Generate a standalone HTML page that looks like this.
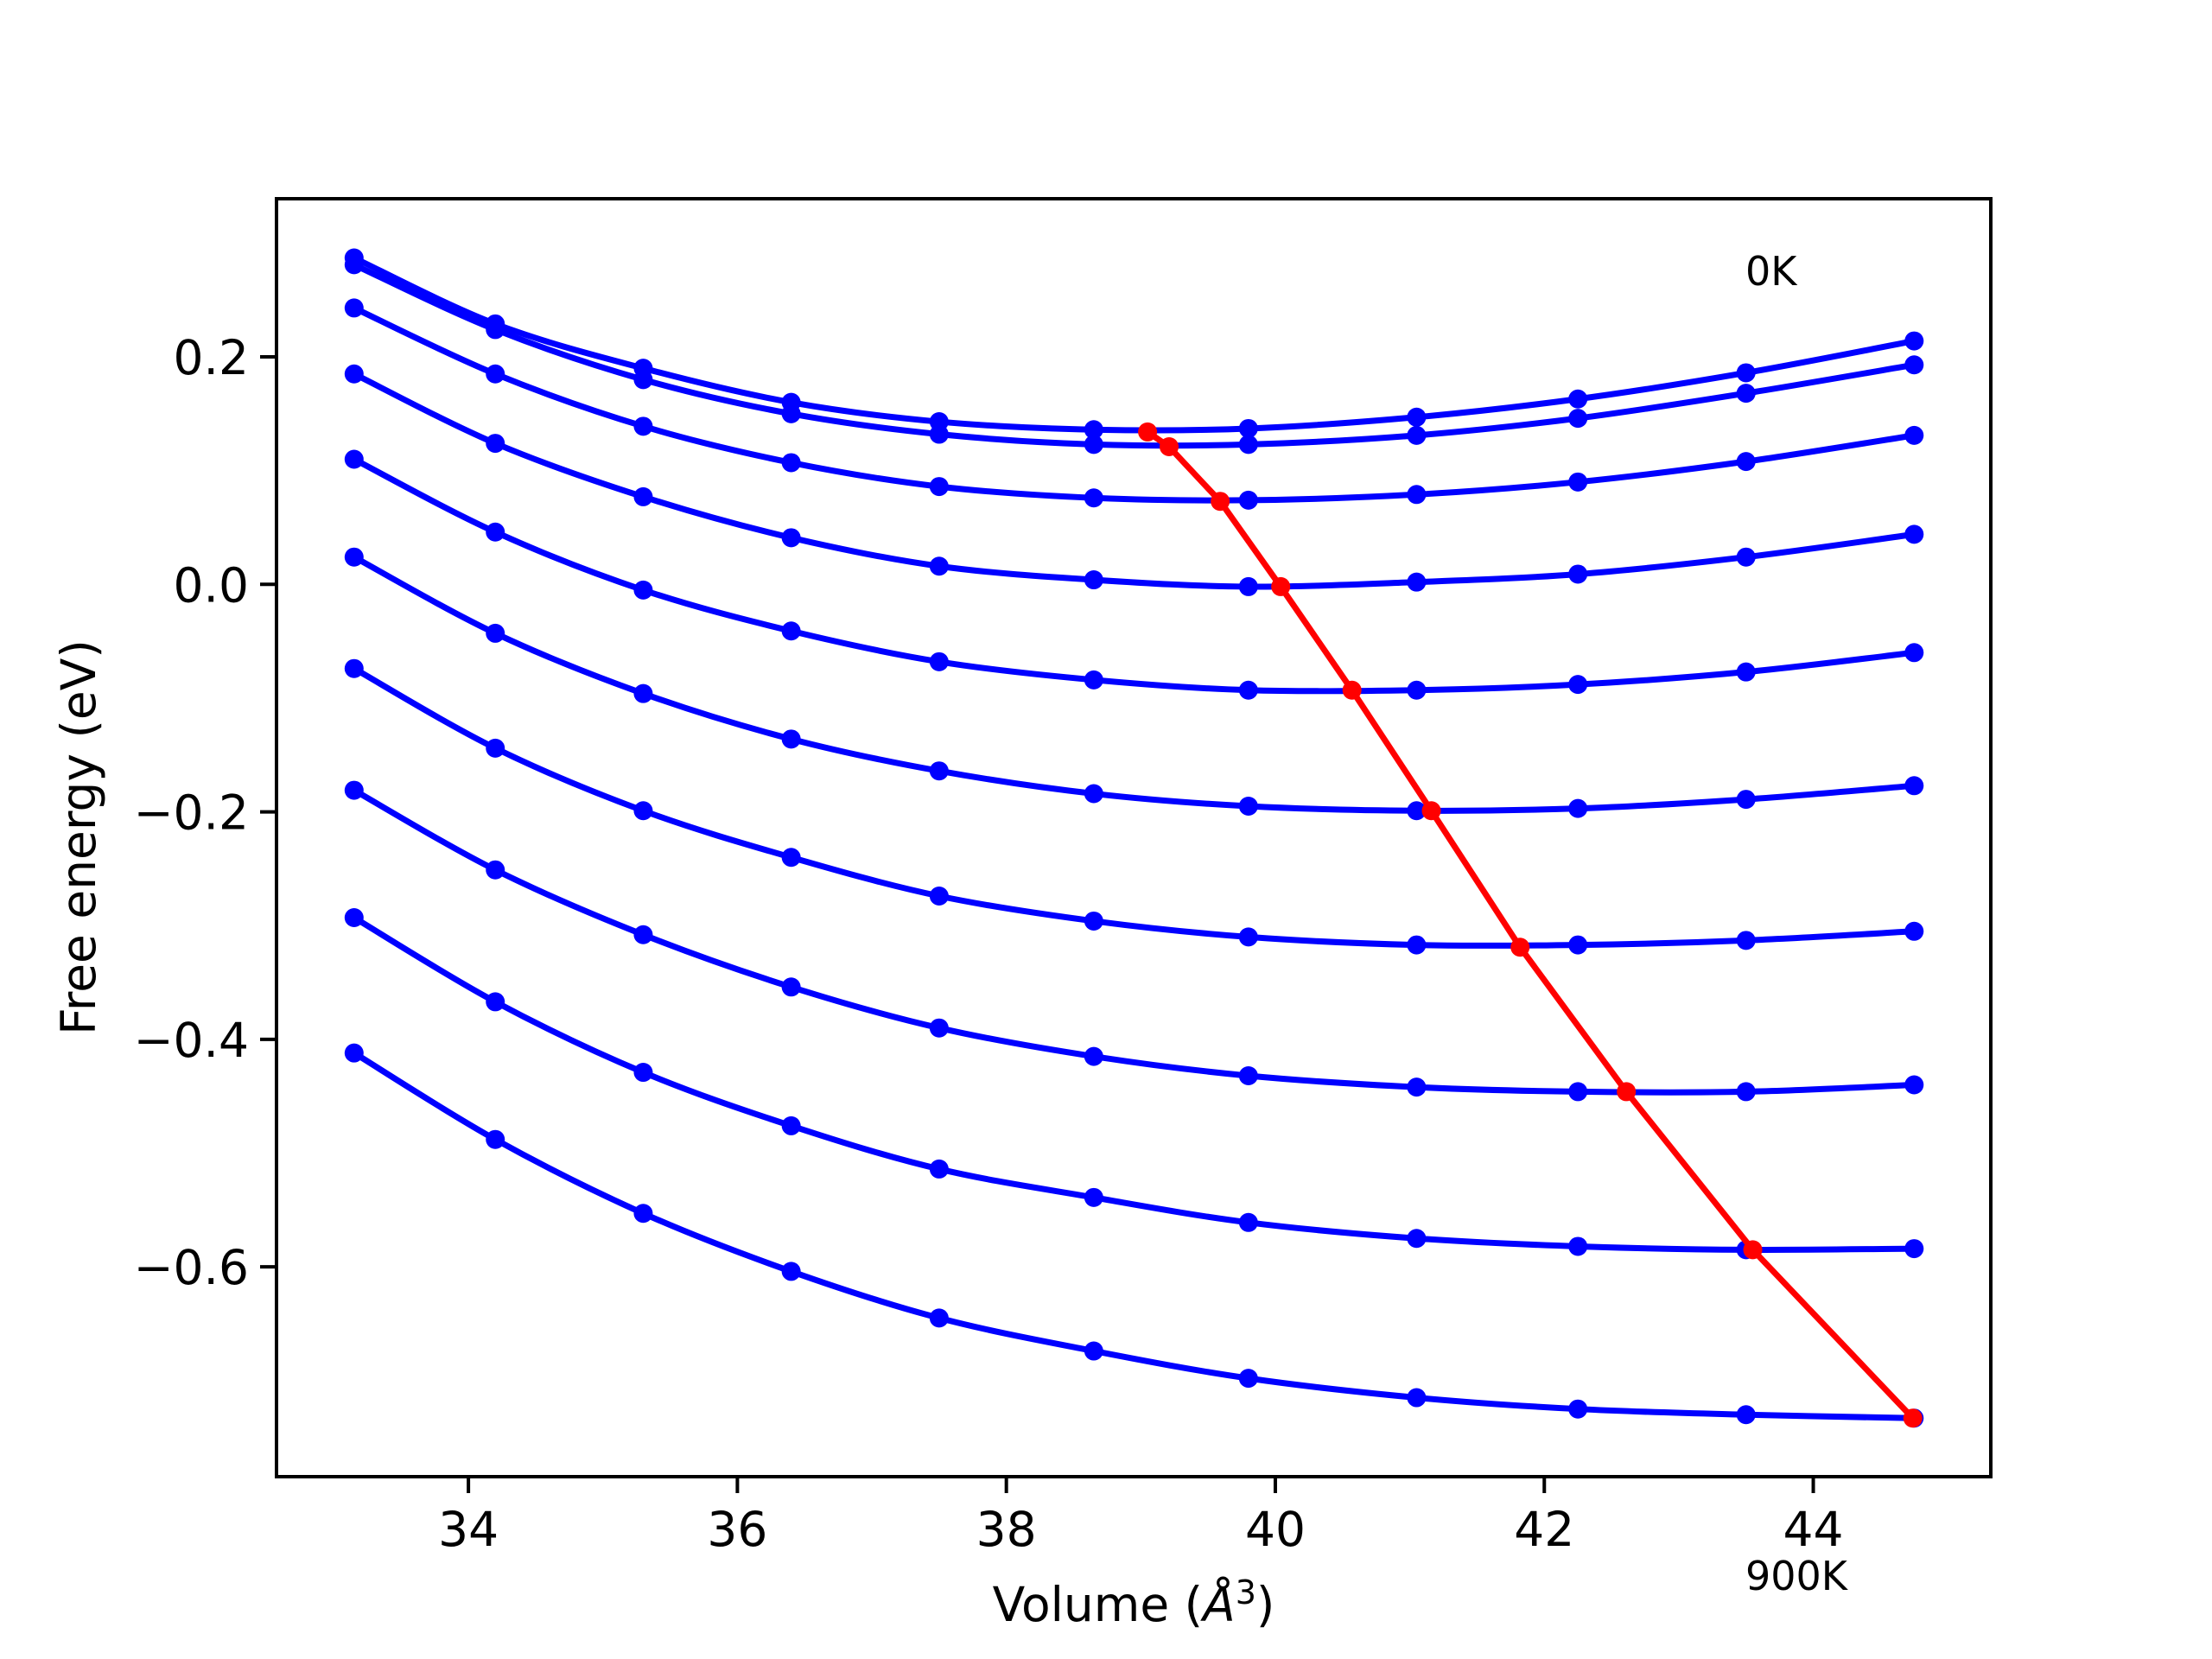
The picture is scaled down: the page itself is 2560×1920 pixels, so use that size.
<!DOCTYPE html>
<html><head><meta charset="utf-8"><style>
html,body{margin:0;padding:0;background:#fff}
svg{display:block}
text{font-family:"DejaVu Sans","Liberation Sans",sans-serif;fill:#000}
</style></head><body>
<svg id="chart" width="2560" height="1920" viewBox="0 0 2560 1920" xmlns="http://www.w3.org/2000/svg">
<rect width="2560" height="1920" fill="#fff"/>
<g id="plot"></g>
<rect x="320" y="230" width="1984" height="1479" fill="none" stroke="#000" stroke-width="4"/>
<g id="ticks"></g>
<text x="1312" y="1876" font-size="55" text-anchor="middle">Volume (<tspan font-style="italic">Å</tspan><tspan font-size="38" dy="-20">3</tspan><tspan dy="20">)</tspan></text>
<text transform="translate(110,969) rotate(-90)" font-size="55" text-anchor="middle">Free energy (eV)</text>
<text x="2020" y="330" font-size="46">0K</text>
<text x="2020" y="1840" font-size="46">900K</text>
</svg>
<script>
const volumes=[33.15,34.2,35.3,36.4,37.5,38.65,39.8,41.05,42.25,43.5,44.75];
const energies=[
[0.287,0.229,0.190,0.160,0.143,0.136,0.137,0.147,0.163,0.186,0.214],
[0.281,0.224,0.180,0.150,0.132,0.123,0.123,0.131,0.146,0.168,0.193],
[0.243,0.185,0.139,0.107,0.086,0.076,0.074,0.079,0.090,0.108,0.131],
[0.185,0.124,0.077,0.041,0.016,0.004,-0.002,0.002,0.009,0.024,0.044],
[0.110,0.046,-0.005,-0.041,-0.068,-0.084,-0.093,-0.093,-0.088,-0.077,-0.060],
[0.024,-0.043,-0.096,-0.136,-0.164,-0.184,-0.195,-0.199,-0.197,-0.189,-0.177],
[-0.074,-0.144,-0.199,-0.240,-0.274,-0.296,-0.310,-0.317,-0.317,-0.313,-0.305],
[-0.181,-0.251,-0.308,-0.354,-0.390,-0.415,-0.432,-0.442,-0.446,-0.446,-0.440],
[-0.293,-0.367,-0.429,-0.476,-0.514,-0.539,-0.561,-0.575,-0.582,-0.585,-0.584],
[-0.412,-0.488,-0.553,-0.604,-0.645,-0.674,-0.698,-0.715,-0.725,-0.730,-0.733]];
const minVolumes=[39.05,39.21,39.59,40.04,40.57,41.16,41.82,42.61,43.55,44.74];
const minEnergies=[0.134,0.121,0.073,-0.002,-0.093,-0.199,-0.319,-0.446,-0.585,-0.733];
const xTicks=[34,36,38,40,42,44];
const yTicks=[0.2,0.0,-0.2,-0.4,-0.6];
const yTickLabels=["0.2","0.0","\u22120.2","\u22120.4","\u22120.6"];

const X0=320,X1=2304,Y0=230,Y1=1709;
const xMin=32.573,xMax=45.32;
const yAt0=676.3,yPerUnit=1316.4;
const sx=v=>X0+(v-xMin)/(xMax-xMin)*(X1-X0);
const sy=v=>yAt0-v*yPerUnit;
const NS="http://www.w3.org/2000/svg";
const plot=document.getElementById('plot');
const ticks=document.getElementById('ticks');
function mk(tag,attrs,parent){const e=document.createElementNS(NS,tag);for(const k in attrs)e.setAttribute(k,attrs[k]);parent.appendChild(e);return e;}
function smoothPath(pts){
  let d=`M${pts[0][0]},${pts[0][1]}`;
  for(let i=0;i<pts.length-1;i++){
    const p0=pts[i-1]||pts[i],p1=pts[i],p2=pts[i+1],p3=pts[i+2]||p2;
    const c1=[p1[0]+(p2[0]-p0[0])/6,p1[1]+(p2[1]-p0[1])/6];
    const c2=[p2[0]-(p3[0]-p1[0])/6,p2[1]-(p3[1]-p1[1])/6];
    d+=` C${c1[0]},${c1[1]} ${c2[0]},${c2[1]} ${p2[0]},${p2[1]}`;
  }
  return d;
}
energies.forEach((series,si)=>{
  const pts=series.map((e,i)=>[sx(volumes[i]),sy(e)]);
  const p=mk('path',{d:smoothPath(pts),fill:'none',stroke:'#0000ff','stroke-width':7},plot);
  
  
  pts.forEach(pt=>{
    const c=mk('circle',{cx:pt[0],cy:pt[1],r:11,fill:'#0000ff'},plot);
    
    
  });
});
const mpts=minVolumes.map((v,i)=>[sx(v),sy(minEnergies[i])]);
const ml=mk('polyline',{points:mpts.map(p=>p.join(',')).join(' '),fill:'none',stroke:'#ff0000','stroke-width':7,'stroke-linejoin':'round'},plot);


mpts.forEach(pt=>{
  const c=mk('circle',{cx:pt[0],cy:pt[1],r:11,fill:'#ff0000'},plot);
  
  
});
xTicks.forEach(t=>{
  const x=sx(t);
  const l=mk('line',{x1:x,x2:x,y1:Y1,y2:Y1+19,stroke:'#000','stroke-width':4},ticks);
  
  
  const tx=mk('text',{x:x,y:Y1+80,'font-size':55,'text-anchor':'middle'},ticks);
  tx.textContent=String(t);
  
  
});
yTicks.forEach((t,i)=>{
  const y=sy(t);
  const l=mk('line',{x1:X0-19,x2:X0,y1:y,y2:y,stroke:'#000','stroke-width':4},ticks);
  
  
  const tx=mk('text',{x:X0-32,y:y+20,'font-size':55,'text-anchor':'end'},ticks);
  tx.textContent=yTickLabels[i];
  
  
});
</script>
</body></html>
